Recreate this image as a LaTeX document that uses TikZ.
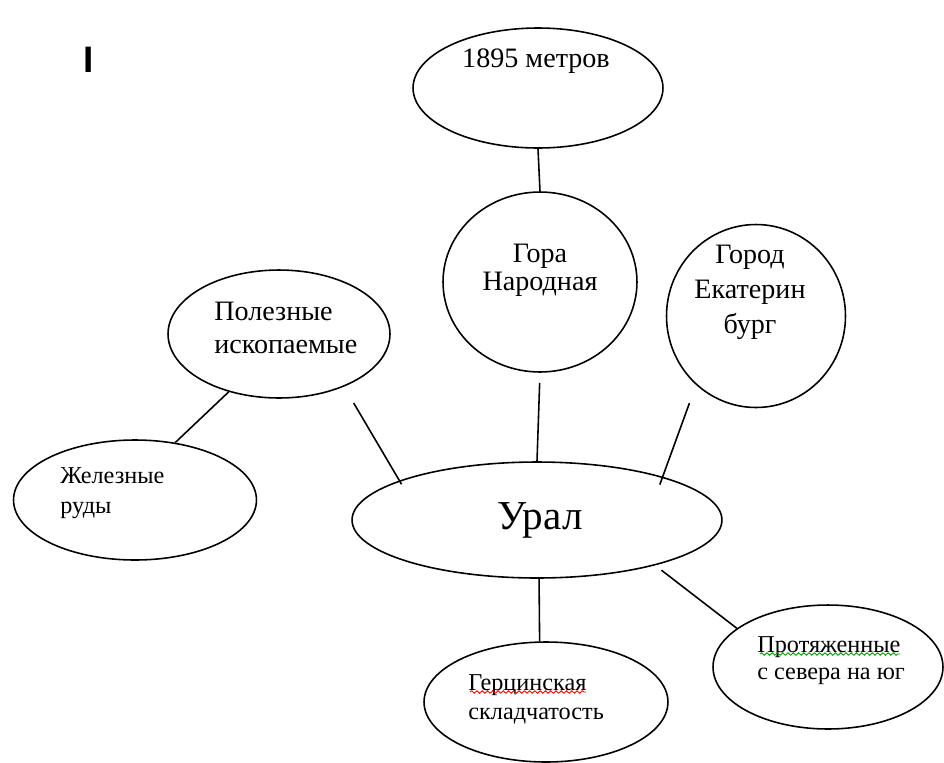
\documentclass[tikz,border=0pt]{standalone}
\usepackage{fontspec}
\setmainfont{Liberation Serif}
\newfontfamily\ruserif{Liberation Serif}
\newfontfamily\marksans{Liberation Sans}
\usetikzlibrary{shapes.geometric,decorations.pathmorphing}

\begin{document}
\begin{tikzpicture}[x=0.02cm, y=-0.02cm,
                    oval/.style={draw, ellipse, line width=0.9pt, inner sep=0pt},
                    txt/.style={inner sep=0pt, align=left},
                    spell/.style={line width=0.5pt, decorate,
                                  decoration={snake, segment length=3pt, amplitude=0.7pt}}
                    ]
                    \useasboundingbox (0,0) rectangle (944,762);

                    % ellipses
                    \node[oval, minimum width=5cm, minimum height=2.4cm] (top) at (538,88) {};
                    \node[oval, minimum width=3.88cm, minimum height=3.6cm] (gora) at (540,282) {};
                    \node[oval, minimum width=3.58cm, minimum height=3.66cm] (ekat) at (756,316) {};
                    \node[oval, minimum width=4.44cm, minimum height=2.56cm] (pol) at (279,334) {};
                    \node[oval, minimum width=4.86cm, minimum height=2.4cm] (zhel) at (135,500) {};
                    \node[oval, minimum width=7.4cm, minimum height=2.32cm] (ural) at (537,520) {};
                    \node[oval, minimum width=4.88cm, minimum height=2.4cm] (gerc) at (546,702) {};
                    \node[oval, minimum width=4.6cm, minimum height=2.48cm] (prot) at (828,667) {};

                    % texts
                    \node[txt, anchor=base, font=\ruserif\fontsize{16}{18}\selectfont] (topText) at (536,67) {1895 метров};
                    \node[txt, align=center, font=\ruserif\fontsize{16}{16}\selectfont] (goraText) at (540,270) {Гора\\Народная};
                    \node[txt, align=center, font=\ruserif\fontsize{16}{20}\selectfont] (ekatText) at (750,292) {Город\\Екатерин\\бург};
                    \node[txt, anchor=west, font=\ruserif\fontsize{16}{18.7}\selectfont] (polText) at (214,328) {Полезные\\ископаемые};
                    \node[txt, anchor=west, font=\ruserif\fontsize{13.8}{17}\selectfont] (zhelText) at (60,493) {Железные\\руды};
                    \node[txt, font=\ruserif\fontsize{23.4}{26}\selectfont] (uralText) at (540,520) {Урал};
                    \node[txt, anchor=west, font=\ruserif\fontsize{13.8}{16.4}\selectfont] (gercText) at (468,699) {Герцинская\\складчатость};
                    \node[txt, anchor=west, font=\ruserif\fontsize{13.8}{15.3}\selectfont] (protText) at (757,661) {Протяженные\\с севера на юг};
                    \node[inner sep=0pt, anchor=base, font=\marksans\bfseries\fontsize{21}{24}\selectfont] (mark) at (88.5,72) {I};

                    % spelling marks
                    \draw[spell, red] (470,692) -- (586,692);
                    \draw[spell, green!60!black] (760,654) -- (900,654);

                    \foreach \i/\j/\s/\t in {top.south/gora.north/0pt/0pt,
                                             gora.south/ural.north/5.7pt/0pt,
                                             ekat.229/ural.19/11pt/-4.8pt,
                                             pol.321/ural.164/10.8pt/-2.5pt,
                                             pol.229/zhel.55/0pt/0pt,
                                             ural.272/gerc.96/0pt/0pt,
                                             ural.339/prot.157/4.5pt/0pt}{
                        \draw[line width=0.9pt, shorten <=\s, shorten >=\t] (\i) -- (\j);
                    }

                \end{tikzpicture}
\end{document}
